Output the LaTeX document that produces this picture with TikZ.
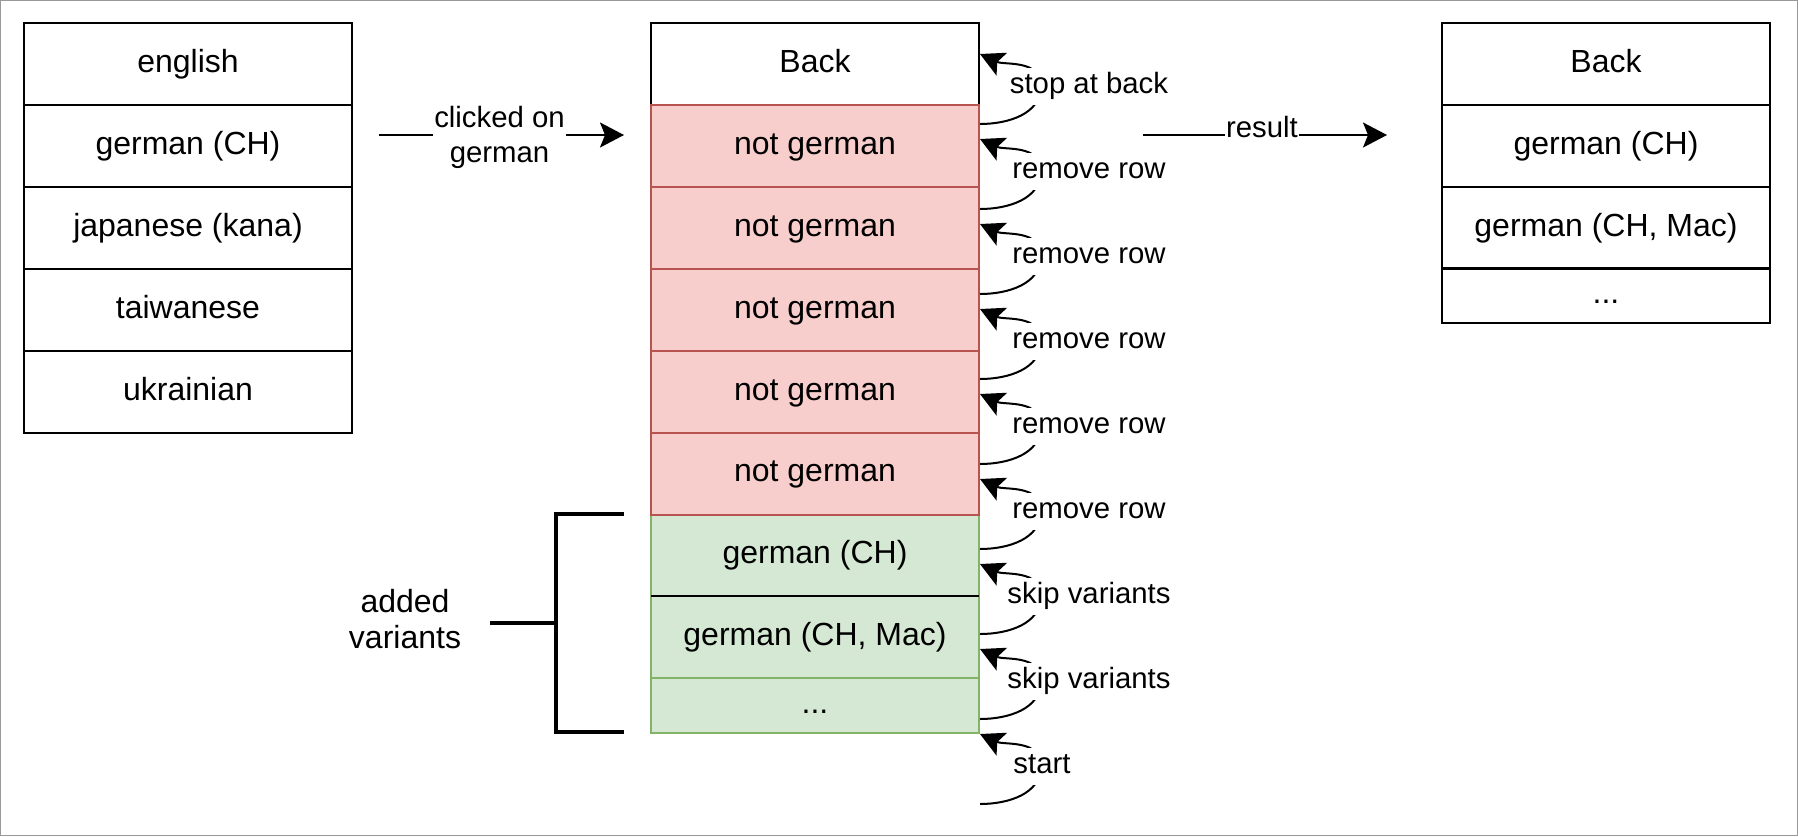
\documentclass[tikz,border=0pt]{standalone}
\usepackage{fontspec}
\setmainfont{Liberation Sans}
\usetikzlibrary{arrows.meta}

\definecolor{rowred}{HTML}{F8CECC}
\definecolor{edgered}{HTML}{B85450}
\definecolor{rowgreen}{HTML}{D5E8D4}
\definecolor{edgegreen}{HTML}{82B366}
\definecolor{framegray}{HTML}{999999}

\tikzset{
  cell/.style={draw, line width=1pt, minimum width=164pt, minimum height=41pt,
    inner sep=0pt, outer sep=0pt, text height=11.5pt, text depth=3.5pt,
    font=\fontsize{16}{18}\selectfont},
  dropped/.style={cell, fill=rowred, draw=edgered},
  kept/.style={cell, fill=rowgreen, draw=edgegreen},
  shortrow/.style={minimum height=27.5pt},
  flow/.style={line width=1pt, -{Stealth[length=12pt, width=12.5pt, inset=2.5pt]}},
  lbl/.style={fill=white, inner xsep=0.5pt, inner ysep=1pt, font=\fontsize{14.67}{17.5}\selectfont},
  steplbl/.style={lbl, inner ysep=2.5pt, text height=10.5pt, text depth=3pt},
  note/.style={align=center, font=\fontsize{16}{18}\selectfont},
  bracket/.style={line width=2pt}
}

\begin{document}
\begin{tikzpicture}[x=0.5pt, y=-0.5pt]
                \useasboundingbox (0,0) rectangle (1798,836);
                \draw[framegray, line width=0.5pt] (0.5,0.5) rectangle (1797.5,835.5);

                % list before the click
                \node[cell] (en) at (188,64) {english};
                \node[cell] (deCH) at (188,146) {german (CH)};
                \node[cell] (ja) at (188,228) {japanese (kana)};
                \node[cell] (tw) at (188,310) {taiwanese};
                \node[cell] (uk) at (188,392) {ukrainian};

                % list while removing
                \node[cell] (back) at (815,64) {Back};
                \node[kept] (var1) at (815,555) {german (CH)};
                \node[kept] (var2) at (815,637) {german (CH, Mac)};
                \node[kept, shortrow] (var3) at (815,705.5) {...};
                \node[dropped] (ng1) at (815,146) {not german};
                \node[dropped] (ng2) at (815,228) {not german};
                \node[dropped] (ng3) at (815,310) {not german};
                \node[dropped] (ng4) at (815,392) {not german};
                \node[dropped] (ng5) at (815,473.5) {not german};
                \draw[line width=1pt] (var1.south west) -- (var1.south east);

                % list after
                \node[cell] (rback) at (1606,64) {Back};
                \node[cell] (rdeCH) at (1606,146) {german (CH)};
                \node[cell] (rdeMac) at (1606,228) {german (CH, Mac)};
                \node[cell, shortrow] (rmore) at (1606,295.5) {...};

                \coordinate (clickA) at (379,135);
                \coordinate (clickB) at (624,135);
                \coordinate (resA) at (1143,135);
                \coordinate (resB) at (1387,135);
                \draw[flow] (clickA) -- (clickB) node[lbl, align=center, midway, xshift=-1pt, yshift=-1pt] (clicked) {clicked on\\german};
                \draw[flow] (resA) -- (resB) node[lbl, midway, xshift=-1.5pt, yshift=2.5pt, text height=10.5pt, text depth=3pt] (result) {result};

                % bracket
                \coordinate (brTop) at (624,514);
                \coordinate (brBot) at (624,732);
                \coordinate (brStub) at (490,623);
                \draw[bracket] (brTop) -- ++(-68,0) |- (brBot);
                \draw[bracket] (brStub) -- ++(66,0);
                \node[note] (added) at (405,619) {added\\variants};

                % steps
                \coordinate (t1) at (980,54);   \coordinate (s1) at (980,124);
                \coordinate (t2) at (980,139);  \coordinate (s2) at (980,209);
                \coordinate (t3) at (980,224);  \coordinate (s3) at (980,294);
                \coordinate (t4) at (980,309);  \coordinate (s4) at (980,379);
                \coordinate (t5) at (980,394);  \coordinate (s5) at (980,464);
                \coordinate (t6) at (980,479);  \coordinate (s6) at (980,549);
                \coordinate (t7) at (980,564);  \coordinate (s7) at (980,634);
                \coordinate (t8) at (980,649);  \coordinate (s8) at (980,719);
                \coordinate (t9) at (980,734);  \coordinate (s9) at (980,804);

                \draw[flow] (s1) to[out=0,in=-90] ++(61,-38) node[steplbl, xshift=24pt] (stop) {stop at back} to[out=90,in=-25] (t1);
                \draw[flow] (s2) to[out=0,in=-90] ++(61,-38) node[steplbl, xshift=24pt] (rm1) {remove row} to[out=90,in=-25] (t2);
                \draw[flow] (s3) to[out=0,in=-90] ++(61,-38) node[steplbl, xshift=24pt] (rm2) {remove row} to[out=90,in=-25] (t3);
                \draw[flow] (s4) to[out=0,in=-90] ++(61,-38) node[steplbl, xshift=24pt] (rm3) {remove row} to[out=90,in=-25] (t4);
                \draw[flow] (s5) to[out=0,in=-90] ++(61,-38) node[steplbl, xshift=24pt] (rm4) {remove row} to[out=90,in=-25] (t5);
                \draw[flow] (s6) to[out=0,in=-90] ++(61,-38) node[steplbl, xshift=24pt] (rm5) {remove row} to[out=90,in=-25] (t6);
                \draw[flow] (s7) to[out=0,in=-90] ++(61,-38) node[steplbl, xshift=24pt] (skip1) {skip variants} to[out=90,in=-25] (t7);
                \draw[flow] (s8) to[out=0,in=-90] ++(61,-38) node[steplbl, xshift=24pt] (skip2) {skip variants} to[out=90,in=-25] (t8);
                \draw[flow] (s9) to[out=0,in=-90] ++(61,-38) node[steplbl, xshift=0.5pt] (go) {start} to[out=90,in=-25] (t9);

\end{tikzpicture}
\end{document}
